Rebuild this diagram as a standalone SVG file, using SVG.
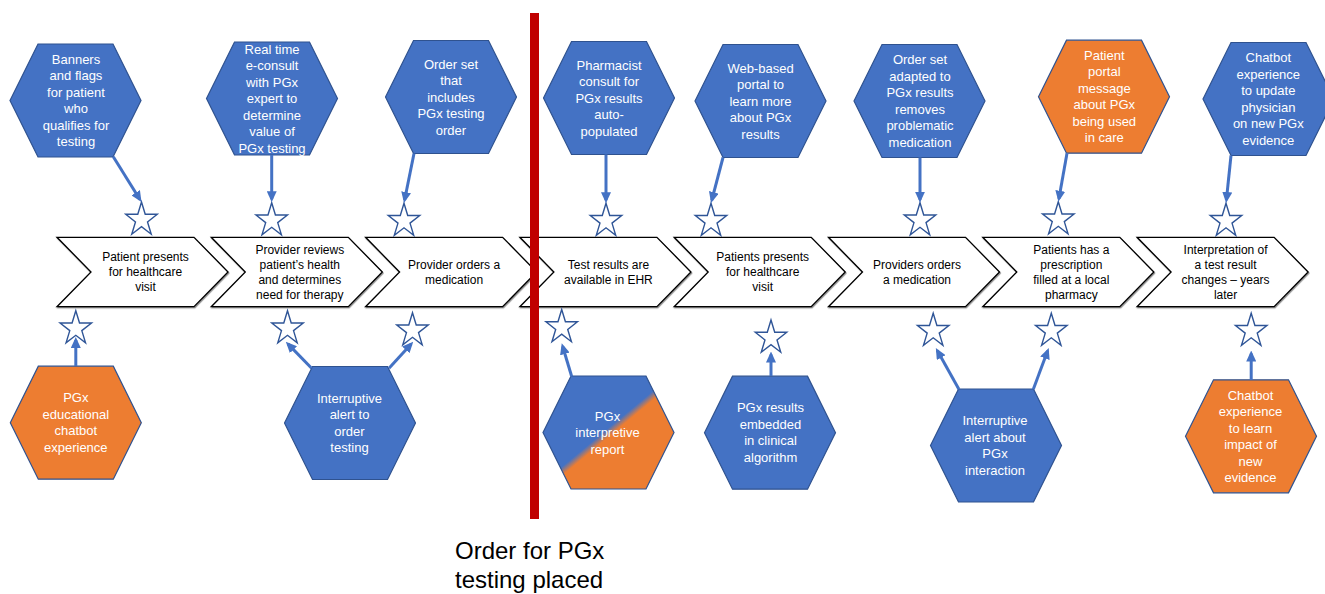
<svg xmlns="http://www.w3.org/2000/svg" xmlns:xlink="http://www.w3.org/1999/xlink" width="1325" height="594" viewBox="0 0 1325 594">
<style>
.hex{stroke:#2F528F;stroke-width:1.2}
.blue{fill:#4472C4}
.orange{fill:#ED7D31}
.split{fill:url(#splitGrad)}
.ht{font-family:"Liberation Sans",Arial,sans-serif;font-size:13px;fill:#FFFFFF;text-anchor:middle}
.chev{fill:#FFFFFF;stroke:#000000;stroke-width:1.3;filter:url(#sh)}
.ct{font-family:"Liberation Sans",Arial,sans-serif;font-size:12px;fill:#000000;text-anchor:middle}
.star{fill:#FFFFFF;stroke:#2F5597;stroke-width:1.4}
.conn line{stroke:#4472C4;stroke-width:3;fill:none;marker-end:url(#ah)}
.cap{font-family:"Liberation Sans",Arial,sans-serif;font-size:24px;fill:#000000}
</style>
<defs>
<path id="hexShape" d="M-65.5,0 L-37.5,-56.5 L37.5,-56.5 L65.5,0 L37.5,56.5 L-37.5,56.5 Z"/>
<path id="chevShape" d="M0,-34.7 L137,-34.7 L171,0 L137,34.7 L0,34.7 L34,0 Z"/>
<path id="starShape" d="M0,-17.8 L3.72,-5.5 L15.75,-5.5 L6.02,2.1 L9.73,14.4 L0,6.8 L-9.73,14.4 L-6.02,2.1 L-15.75,-5.5 L-3.72,-5.5 Z"/>
<marker id="ah" markerUnits="userSpaceOnUse" viewBox="0 0 11 10" markerWidth="11" markerHeight="10" refX="8" refY="5" orient="auto">
<path d="M0,0 L11,5 L0,10 Z" fill="#4472C4"/>
</marker>
<linearGradient id="splitGrad" gradientUnits="userSpaceOnUse" x1="-37.5" y1="-45" x2="37.5" y2="45">
<stop offset="0" stop-color="#4472C4"/>
<stop offset="0.47" stop-color="#4472C4"/>
<stop offset="0.53" stop-color="#ED7D31"/>
<stop offset="1" stop-color="#ED7D31"/>
</linearGradient>
<filter id="sh" x="-5%" y="-10%" width="115%" height="130%">
<feDropShadow dx="0.8" dy="1.2" stdDeviation="0.4" flood-color="#000000" flood-opacity="0.45"/>
</filter>
</defs>
<rect x="0" y="0" width="1325" height="594" fill="#FFFFFF"/>

<g id="chevrons">
<g id="c1"><use href="#chevShape" class="chev" transform="translate(57,272)"/>
<text class="ct" y="261.2"><tspan x="145.5">Patient presents</tspan><tspan x="145.5" dy="15">for healthcare</tspan><tspan x="145.5" dy="15">visit</tspan></text></g>
<g id="c2"><use href="#chevShape" class="chev" transform="translate(211.3,272)"/>
<text class="ct" y="253.7"><tspan x="299.8">Provider reviews</tspan><tspan x="299.8" dy="15">patient’s health</tspan><tspan x="299.8" dy="15">and determines</tspan><tspan x="299.8" dy="15">need for therapy</tspan></text></g>
<g id="c3"><use href="#chevShape" class="chev" transform="translate(365.6,272)"/>
<text class="ct" y="268.7"><tspan x="454.1">Provider orders a</tspan><tspan x="454.1" dy="15">medication</tspan></text></g>
<g id="c4"><use href="#chevShape" class="chev" transform="translate(519.9,272)"/>
<text class="ct" y="268.7"><tspan x="608.4">Test results are</tspan><tspan x="608.4" dy="15">available in EHR</tspan></text></g>
<g id="c5"><use href="#chevShape" class="chev" transform="translate(674.2,272)"/>
<text class="ct" y="261.2"><tspan x="762.7">Patients presents</tspan><tspan x="762.7" dy="15">for healthcare</tspan><tspan x="762.7" dy="15">visit</tspan></text></g>
<g id="c6"><use href="#chevShape" class="chev" transform="translate(828.5,272)"/>
<text class="ct" y="268.7"><tspan x="917">Providers orders</tspan><tspan x="917" dy="15">a medication</tspan></text></g>
<g id="c7"><use href="#chevShape" class="chev" transform="translate(982.8,272)"/>
<text class="ct" y="253.7"><tspan x="1071.3">Patients has a</tspan><tspan x="1071.3" dy="15">prescription</tspan><tspan x="1071.3" dy="15">filled at a local</tspan><tspan x="1071.3" dy="15">pharmacy</tspan></text></g>
<g id="c8"><use href="#chevShape" class="chev" transform="translate(1137.1,272)"/>
<text class="ct" y="253.7"><tspan x="1225.6">Interpretation of</tspan><tspan x="1225.6" dy="15">a test result</tspan><tspan x="1225.6" dy="15">changes – years</tspan><tspan x="1225.6" dy="15">later</tspan></text></g>
</g>

<g id="h1"><use href="#hexShape" class="hex blue" transform="translate(75.5,100.5)"/>
<text class="ht" y="63.75"><tspan x="76">Banners</tspan><tspan x="76" dy="16.5">and flags</tspan><tspan x="76" dy="16.5">for patient</tspan><tspan x="76" dy="16.5">who</tspan><tspan x="76" dy="16.5">qualifies for</tspan><tspan x="76" dy="16.5">testing</tspan></text></g>
<g id="h2"><use href="#hexShape" class="hex blue" transform="translate(272,98.5)"/>
<text class="ht" y="53.5"><tspan x="272">Real time</tspan><tspan x="272" dy="16.5">e-consult</tspan><tspan x="272" dy="16.5">with PGx</tspan><tspan x="272" dy="16.5">expert to</tspan><tspan x="272" dy="16.5">determine</tspan><tspan x="272" dy="16.5">value of</tspan><tspan x="272" dy="16.5">PGx testing</tspan></text></g>
<g id="h3"><use href="#hexShape" class="hex blue" transform="translate(451,97)"/>
<text class="ht" y="68.5"><tspan x="451">Order set</tspan><tspan x="451" dy="16.5">that</tspan><tspan x="451" dy="16.5">includes</tspan><tspan x="451" dy="16.5">PGx testing</tspan><tspan x="451" dy="16.5">order</tspan></text></g>
<g id="h4"><use href="#hexShape" class="hex blue" transform="translate(609,98)"/>
<text class="ht" y="69.5"><tspan x="609">Pharmacist</tspan><tspan x="609" dy="16.5">consult for</tspan><tspan x="609" dy="16.5">PGx results</tspan><tspan x="609" dy="16.5">auto-</tspan><tspan x="609" dy="16.5">populated</tspan></text></g>
<g id="h5"><use href="#hexShape" class="hex blue" transform="translate(760.5,101)"/>
<text class="ht" y="72.5"><tspan x="760.5">Web-based</tspan><tspan x="760.5" dy="16.5">portal to</tspan><tspan x="760.5" dy="16.5">learn more</tspan><tspan x="760.5" dy="16.5">about PGx</tspan><tspan x="760.5" dy="16.5">results</tspan></text></g>
<g id="h6"><use href="#hexShape" class="hex blue" transform="translate(919.5,101)"/>
<text class="ht" y="64.25"><tspan x="920">Order set</tspan><tspan x="920" dy="16.5">adapted to</tspan><tspan x="920" dy="16.5">PGx results</tspan><tspan x="920" dy="16.5">removes</tspan><tspan x="920" dy="16.5">problematic</tspan><tspan x="920" dy="16.5">medication</tspan></text></g>
<g id="h7"><use href="#hexShape" class="hex orange" transform="translate(1104,96.7)"/>
<text class="ht" y="59.95"><tspan x="1104.3">Patient</tspan><tspan x="1104.3" dy="16.5">portal</tspan><tspan x="1104.3" dy="16.5">message</tspan><tspan x="1104.3" dy="16.5">about PGx</tspan><tspan x="1104.3" dy="16.5">being used</tspan><tspan x="1104.3" dy="16.5">in care</tspan></text></g>
<g id="h8"><use href="#hexShape" class="hex blue" transform="translate(1268.5,99)"/>
<text class="ht" y="62.25"><tspan x="1268.3">Chatbot</tspan><tspan x="1268.3" dy="16.5">experience</tspan><tspan x="1268.3" dy="16.5">to update</tspan><tspan x="1268.3" dy="16.5">physician</tspan><tspan x="1268.3" dy="16.5">on new PGx</tspan><tspan x="1268.3" dy="16.5">evidence</tspan></text></g>

<g id="b1"><use href="#hexShape" class="hex orange" transform="translate(75.8,422.7)"/>
<text class="ht" y="402.45"><tspan x="75.8">PGx</tspan><tspan x="75.8" dy="16.5">educational</tspan><tspan x="75.8" dy="16.5">chatbot</tspan><tspan x="75.8" dy="16.5">experience</tspan></text></g>
<g id="b2"><use href="#hexShape" class="hex blue" transform="translate(350,423)"/>
<text class="ht" y="402.75"><tspan x="349.5">Interruptive</tspan><tspan x="349.5" dy="16.5">alert to</tspan><tspan x="349.5" dy="16.5">order</tspan><tspan x="349.5" dy="16.5">testing</tspan></text></g>
<g id="b3"><use href="#hexShape" class="hex split" transform="translate(608.5,432.5)"/>
<text class="ht" y="420.5"><tspan x="607.5">PGx</tspan><tspan x="607.5" dy="16.5">interpretive</tspan><tspan x="607.5" dy="16.5">report</tspan></text></g>
<g id="b4"><use href="#hexShape" class="hex blue" transform="translate(770,432.7)"/>
<text class="ht" y="412.45"><tspan x="770.5">PGx results</tspan><tspan x="770.5" dy="16.5">embedded</tspan><tspan x="770.5" dy="16.5">in clinical</tspan><tspan x="770.5" dy="16.5">algorithm</tspan></text></g>
<g id="b5"><use href="#hexShape" class="hex blue" transform="translate(996,445.5)"/>
<text class="ht" y="425.25"><tspan x="995">Interruptive</tspan><tspan x="995" dy="16.5">alert about</tspan><tspan x="995" dy="16.5">PGx</tspan><tspan x="995" dy="16.5">interaction</tspan></text></g>
<g id="b6"><use href="#hexShape" class="hex orange" transform="translate(1251,436.3)"/>
<text class="ht" y="399.55"><tspan x="1250.5">Chatbot</tspan><tspan x="1250.5" dy="16.5">experience</tspan><tspan x="1250.5" dy="16.5">to learn</tspan><tspan x="1250.5" dy="16.5">impact of</tspan><tspan x="1250.5" dy="16.5">new</tspan><tspan x="1250.5" dy="16.5">evidence</tspan></text></g>

<g id="stars">
<use href="#starShape" class="star" transform="translate(141.5,219.8)"/>
<use href="#starShape" class="star" transform="translate(271.7,220.5)"/>
<use href="#starShape" class="star" transform="translate(404,221)"/>
<use href="#starShape" class="star" transform="translate(606,221)"/>
<use href="#starShape" class="star" transform="translate(711,221)"/>
<use href="#starShape" class="star" transform="translate(920,220.5)"/>
<use href="#starShape" class="star" transform="translate(1058.3,219.5)"/>
<use href="#starShape" class="star" transform="translate(1226,221)"/>
<use href="#starShape" class="star" transform="translate(75.8,328.5)"/>
<use href="#starShape" class="star" transform="translate(287.5,328.5)"/>
<use href="#starShape" class="star" transform="translate(412.5,330.5)"/>
<use href="#starShape" class="star" transform="translate(561.7,327.3)"/>
<use href="#starShape" class="star" transform="translate(771,337.8)"/>
<use href="#starShape" class="star" transform="translate(933.2,331)"/>
<use href="#starShape" class="star" transform="translate(1051.3,331)"/>
<use href="#starShape" class="star" transform="translate(1251.2,331)"/>
</g>

<g id="connectors" class="conn">
<line x1="113.3" y1="156.7" x2="139.9" y2="199.5"/>
<line x1="271.7" y1="155" x2="271.7" y2="199.2"/>
<line x1="414" y1="153.5" x2="404.6" y2="200"/>
<line x1="606" y1="154.5" x2="606" y2="200.2"/>
<line x1="723" y1="157.5" x2="711.8" y2="200.1"/>
<line x1="920" y1="157.5" x2="920" y2="199.7"/>
<line x1="1067" y1="153.2" x2="1058.9" y2="198.8"/>
<line x1="1231" y1="155.5" x2="1226.4" y2="200"/>
<line x1="75.8" y1="366" x2="75.8" y2="340"/>
<line x1="311.6" y1="368.3" x2="287.9" y2="343.9"/>
<line x1="389" y1="368.3" x2="411.2" y2="343.9"/>
<line x1="571.7" y1="376.5" x2="562.6" y2="346.2"/>
<line x1="771" y1="376" x2="771" y2="354.5"/>
<line x1="958.9" y1="389.3" x2="937.3" y2="350.6"/>
<line x1="1033.3" y1="389.3" x2="1047.7" y2="350.8"/>
<line x1="1251.2" y1="380" x2="1251.2" y2="353.5"/>
</g>

<rect id="divider" x="530" y="13" width="9" height="506" fill="#C00000"/>
<g id="caption">
<text class="cap" x="455" y="559">Order for PGx</text>
<text class="cap" x="455" y="588">testing placed</text>
</g>
</svg>
